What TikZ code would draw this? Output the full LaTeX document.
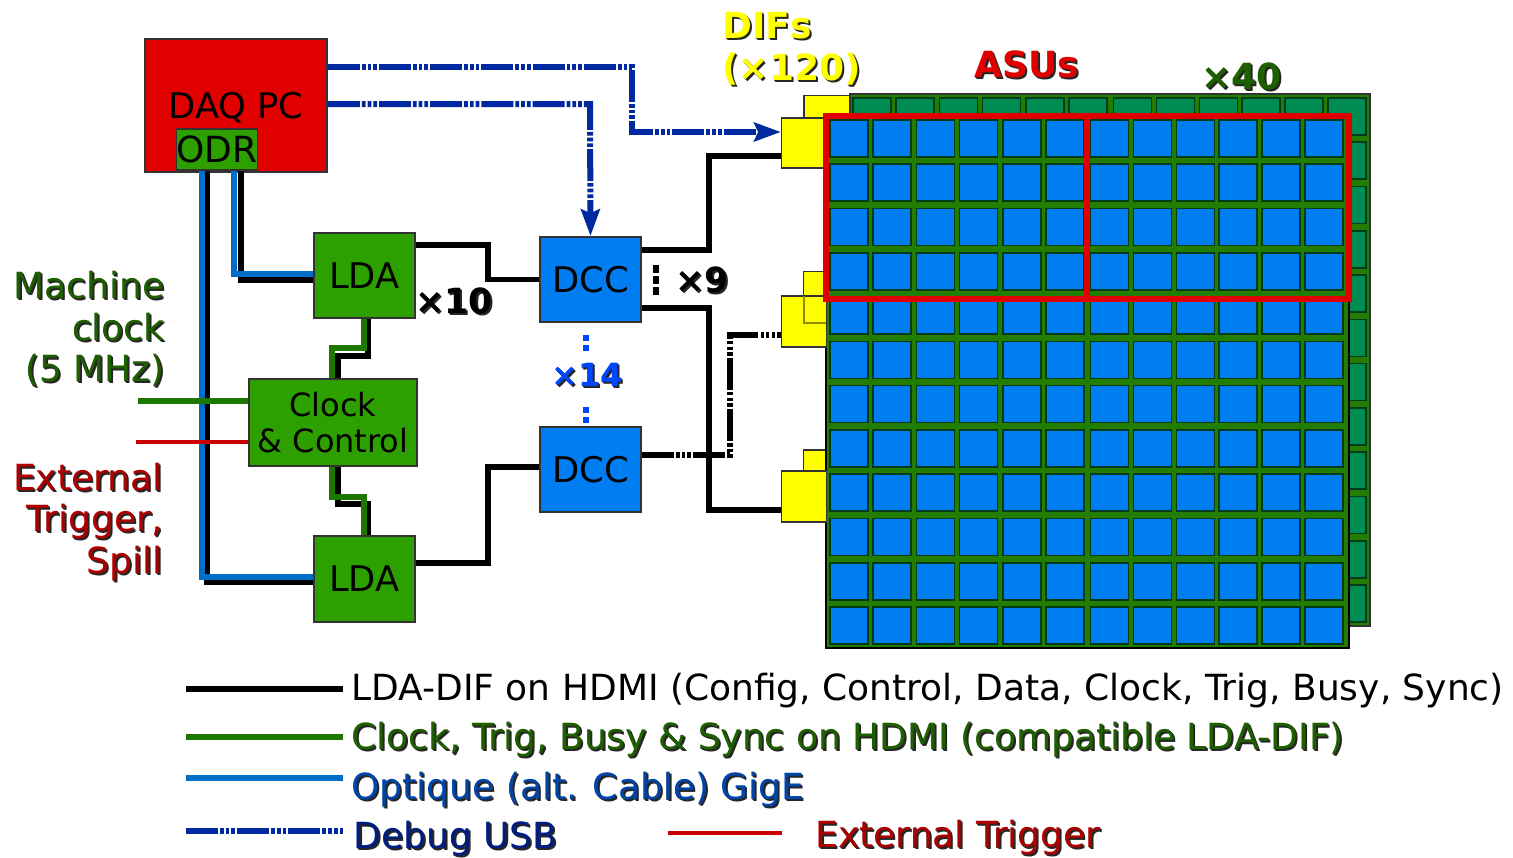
\documentclass[tikz,border=0pt]{standalone}
\usepackage{fontspec}
\setmainfont{DejaVu Sans}
\usetikzlibrary{arrows.meta}
\definecolor{boxgreen}{RGB}{45,160,0}
\definecolor{boxblue}{RGB}{0,125,240}
\definecolor{boxred}{RGB}{225,0,0}
\definecolor{difyellow}{RGB}{255,255,0}
\definecolor{boardgreen}{RGB}{0,140,80}
\definecolor{gridgreen}{RGB}{35,125,0}
\definecolor{gridedge}{RGB}{0,60,25}
\definecolor{linegreen}{RGB}{30,120,0}
\definecolor{lineblue}{RGB}{0,110,200}
\definecolor{lineusb}{RGB}{0,40,160}
\definecolor{textgreen}{RGB}{30,95,0}
\definecolor{textblue}{RGB}{0,70,170}
\definecolor{textusb}{RGB}{0,30,130}
\definecolor{textred}{RGB}{175,0,0}
\definecolor{textbright}{RGB}{0,70,255}
% coloured text with a dark shadow behind it
\newcommand{\shtxt}[2]{\rlap{\kern1.5pt\raisebox{-1.5pt}{\color{black!85}#2}}\rlap{\kern0.7pt\raisebox{-0.7pt}{\color{black!85}#2}}{\color{#1}#2}}
\tikzset{every picture/.style={line width=0.75pt}}
\tikzset{
  unit/.style={draw=black!80,line width=1.2pt,inner sep=0pt,font=\fontsize{26.5}{30}\selectfont},
  difbox/.style={draw=black!80,fill=difyellow,line width=1.2pt,inner sep=0pt},
  hdmi/.style={draw=black,line width=4.2pt},
  hdmidash/.style={hdmi,dash pattern={on 24pt off 1.7pt on 2.5pt off 1.7pt on 2.5pt off 1.7pt on 2.5pt off 1.7pt}},
  usb/.style={draw=lineusb,line width=4.5pt,dash pattern={on 24pt off 1.5pt on 2.8pt off 1.5pt on 2.8pt off 1.5pt on 2.8pt off 1.5pt}},
  usbarrow/.style={usb,-{Stealth[length=20pt,width=14pt,inset=3pt]}},
  clockline/.style={draw=linegreen,line width=4.5pt},
  optic/.style={draw=lineblue,line width=5pt},
  trigline/.style={draw=boxred!90!black,line width=3.6pt},
  txtline/.style={inner sep=0pt,font=\fontsize{27}{31}\selectfont},
  lbl/.style={inner sep=0pt,font=\fontsize{27}{31.5}\selectfont\bfseries},
}

\begin{document}
\begin{tikzpicture}[x=0.75pt,y=0.75pt,yscale=-1,xscale=1]
\useasboundingbox (0,0) rectangle (1513,857);

%Shape: back board
\filldraw [draw=black!80,fill=gridgreen,line width=1.5pt] (850,94) rectangle (1370,626);
\foreach \i in {0,...,11} {
  \foreach \j in {0,...,11} {
    \pgfmathsetmacro{\cx}{(\i<6 ? 853+43.2*\i : 1113.5+42.9*(\i-6))}
    \pgfmathsetmacro{\cy}{98+44.27*\j}
    \filldraw [draw=gridedge,fill=boardgreen,line width=1.2pt] (\cx,\cy) rectangle ++(38,37);
  }
}
%Shape: back parts of the DIFs
\node (difab) [difbox,minimum width=34.5pt,minimum height=17pt] at (827,107) {};
\node (difbb) [difbox,minimum width=17pt,minimum height=40pt] at (815,298) {};
\node (difcb) [difbox,minimum width=17pt,minimum height=30pt] at (815,470) {};

%Shape: front board
\filldraw [draw=black,fill=gridgreen,line width=1.5pt] (826,116) rectangle (1349,648);
\foreach \i in {0,...,11} {
  \foreach \j in {0,...,11} {
    \pgfmathsetmacro{\cx}{(\i<6 ? 830+43.2*\i : 1090.5+42.9*(\i-6))}
    \pgfmathsetmacro{\cy}{120+44.27*\j}
    \filldraw [draw=gridedge,fill=boxblue,line width=1.2pt] (\cx,\cy) rectangle ++(38,37);
  }
}

%Shape: front parts of the DIFs
\node (difa) [difbox,minimum width=33.5pt,minimum height=37.5pt] at (804,143) {};
\node (difb) [difbox,minimum width=33.5pt,minimum height=38pt] at (804,321.5) {};
\node (difc) [difbox,minimum width=33.5pt,minimum height=38.5pt] at (804,496.5) {};
%Straight Lines: back of difb seen through the front
\draw [draw=black!45!difyellow,line width=1.2pt] (804,296) -- (804,323) -- (826,323);

%Shape: ASU frames
\draw [draw=boxred,line width=4.5pt] (826,116) rectangle (1087,299);
\draw [draw=boxred,line width=4.5pt] (1087,116) rectangle (1349,299);

%Shape: units
\node (daq) [unit,fill=boxred,minimum width=136.5pt,minimum height=100pt,text depth=0pt] at (236,105.5) {DAQ PC};
\node (odr) [unit,fill=boxgreen,minimum width=60pt,minimum height=30.5pt,font=\fontsize{27}{30}\selectfont] at (217,149.5) {ODR};
\node (ldaa) [unit,fill=boxgreen,minimum width=76pt,minimum height=64pt] at (364.5,275.5) {LDA};
\node (ldab) [unit,fill=boxgreen,minimum width=76pt,minimum height=64.5pt] at (364.5,579) {LDA};
\node (clk) [unit,fill=boxgreen,minimum width=126pt,minimum height=65pt,align=center,font=\fontsize{24}{28}\selectfont] at (333,422.5) {Clock\\[-1pt]\& Control};
\node (dcca) [unit,fill=boxblue,minimum width=76pt,minimum height=64pt] at (590.5,279.5) {DCC};
\node (dccb) [unit,fill=boxblue,minimum width=76pt,minimum height=64pt] at (590.5,469.5) {DCC};

%Straight Lines: gigabit links, black under blue
\draw [hdmi] (odr.south -| 207,0) -- (207,582) -- (ldab.west |- 0,582);
\draw [optic] (odr.south -| 202,0) -- (202,577) -- (ldab.west |- 0,577);
\draw [hdmi] (odr.south -| 241,0) -- (241,280) -- (ldaa.west |- 0,280);
\draw [optic] (odr.south -| 234,0) -- (234,274) -- (ldaa.west |- 0,274);

%Straight Lines: clock links, black under green
\draw [hdmi] (ldaa.south -| 368,0) -- (368,356) -- (338,356) -- (clk.north -| 338,0);
\draw [clockline] (ldaa.south -| 364,0) -- (364,348) -- (332,348) -- (clk.north -| 332,0);
\draw [hdmi] (clk.south -| 338,0) -- (338,504) -- (368,504) -- (ldab.north -| 368,0);
\draw [clockline] (clk.south -| 332,0) -- (332,497) -- (364,497) -- (ldab.north -| 364,0);

%Straight Lines: outer inputs
\coordinate (clkin) at (138,401);
\coordinate (trigin) at (136,442);
\draw [clockline] (clkin) -- (clkin -| clk.west);
\draw [trigline] (trigin) -- (trigin -| clk.west);

%Straight Lines: LDA to DCC to DIF
\draw [hdmi] (ldaa.east |- 0,245) -- (488,245) |- (dcca.west);
\draw [hdmi] (ldab.east |- 0,563) -- (488,563) |- (dccb.west |- 0,467);
\draw [hdmi] (dcca.east |- 0,250) -- (709,250) |- (difa.west |- 0,156);
\draw [hdmi] (dcca.east |- 0,308) -- (709,308) |- (difc.west |- 0,510);
\draw [hdmidash] (dccb.east |- 0,455) -- (730,455) |- (difb.west |- 0,335);

%Straight Lines: debug links
\draw [usbarrow] (daq.east |- 0,67) -- (632,67) |- (difa.west |- 0,132);
\draw [usbarrow] (daq.east |- 0,104) -- (590,104) -- (dcca.north);

%Straight Lines: repeat marks
\coordinate (dotsa) at (656,265);
\coordinate (dotsb) at (656,297);
\coordinate (dotsc) at (586,335);
\coordinate (dotsd) at (586,353);
\coordinate (dotse) at (586,407);
\coordinate (dotsf) at (586,425);
\draw [draw=black,line width=5pt,dash pattern={on 6pt off 2.2pt}] (dotsa) -- (dotsb);
\draw [draw=textbright,line width=5pt,dash pattern={on 4.5pt off 3pt}] (dotsc) -- (dotsd);
\draw [draw=textbright,line width=5pt,dash pattern={on 4.5pt off 3pt}] (dotse) -- (dotsf);

% Text Node
\node (lbldif) [lbl,anchor=west,align=left] at (722,49.5) {\shtxt{difyellow}{DIFs}\\\shtxt{difyellow}{(×120)}};
% Text Node
\node (lblasu) [lbl,anchor=west] at (974,65) {\shtxt{boxred}{ASUs}};
% Text Node
\node (lblforty) [lbl,anchor=west] at (1201,77) {\shtxt{textgreen}{×40}};
% Text Node
\node (lblnine) [lbl,anchor=west,font=\fontsize{26}{30}\selectfont\bfseries] at (675,281) {\shtxt{black}{×9}};
% Text Node
\node (lblten) [lbl,anchor=west,font=\fontsize{26}{30}\selectfont\bfseries] at (415,302) {\shtxt{black}{×10}};
% Text Node
\node (lblfourteen) [lbl,anchor=west,font=\fontsize{24}{28}\selectfont\bfseries] at (551,376) {\shtxt{textbright}{×14}};
% Text Node
\node (lblclock) [txtline,anchor=east,align=right] at (165,330) {\shtxt{textgreen}{Machine}\\\shtxt{textgreen}{clock}\\\shtxt{textgreen}{(5 MHz)}};
% Text Node
\node (lbltrig) [txtline,anchor=east,align=right] at (163,523) {\shtxt{textred}{External}\\\shtxt{textred}{Trigger,}\\\shtxt{textred}{Spill}};

%Straight Lines: legend
\coordinate (legas) at (186,689);
\coordinate (legae) at (343,689);
\coordinate (legbs) at (186,737);
\coordinate (legbe) at (343,737);
\coordinate (legcs) at (186,778);
\coordinate (legce) at (343,778);
\coordinate (legds) at (186,831);
\coordinate (legde) at (343,831);
\coordinate (leges) at (668,833);
\coordinate (legee) at (782,833);
\draw [hdmi] (legas) -- (legae);
\draw [clockline] (legbs) -- (legbe);
\draw [optic] (legcs) -- (legce);
\draw [usb] (legds) -- (legde);
\draw [trigline] (leges) -- (legee);

% Text Node
\node (txta) [txtline,anchor=west] at (351,691) {LDA-DIF on HDMI (Config, Control, Data, Clock, Trig, Busy, Sync)};
% Text Node
\node (txtb) [txtline,anchor=west] at (351,741) {\shtxt{textgreen}{Clock, Trig, Busy \& Sync on HDMI (compatible LDA-DIF)}};
% Text Node
\node (txtc) [txtline,anchor=west] at (351,791) {\shtxt{textblue}{Optique (alt. Cable) GigE}};
% Text Node
\node (txtd) [txtline,anchor=west] at (353,840) {\shtxt{textusb}{Debug USB}};
% Text Node
\node (txte) [txtline,anchor=west] at (815,839) {\shtxt{textred}{External Trigger}};

\end{tikzpicture}
\end{document}
